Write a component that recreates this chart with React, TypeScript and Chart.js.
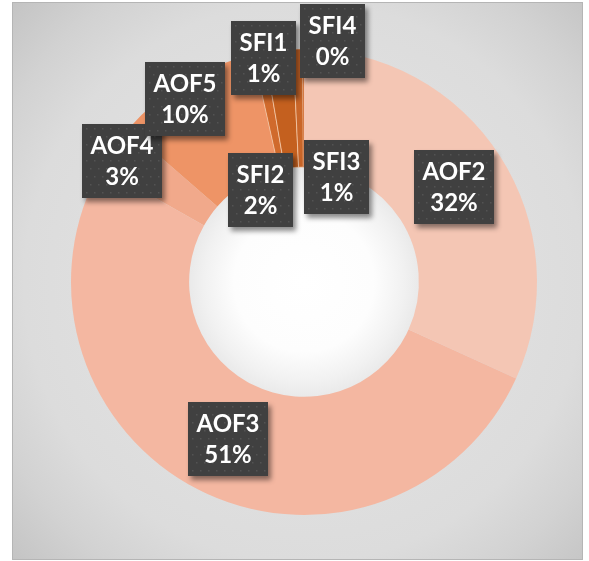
import React, { useEffect, useRef } from "react";
import { Chart, registerables } from "chart.js";

Chart.register(...registerables);

// Categories and their shares (percent of the whole)
const categories = ["AOF2", "AOF3", "AOF4", "AOF5", "SFI1", "SFI2", "SFI3", "SFI4"];
const shares = [31.8, 51.4, 3.2, 10.1, 0.8, 1.95, 0.65, 0.1];
const sliceColors = [
  "#F4C6B4",
  "#F4B7A1",
  "#F1A98B",
  "#EE9466",
  "#D06A2C",
  "#C4601F",
  "#C96629",
  "#D77B45",
];
const sliceBorders = [0, 0, 0, 0, 1, 1, 1, 0];
// Manual label nudges (px) relative to each slice centre, as in the original layout
const labelOffsets: [number, number][] = [
  [4, -1],
  [3, 2],
  [-40, -21],
  [-30, -34],
  [-7, -53],
  [-25, 81],
  [37, 69],
  [29, -67],
];

const LABEL_FONT = "bold 24px Lato, 'Open Sans', sans-serif";

const boxLabelPlugin = {
  id: "boxLabels",
  afterDatasetsDraw(chart: any) {
    const ctx: CanvasRenderingContext2D = chart.ctx;
    const meta = chart.getDatasetMeta(0);
    const data = chart.data.datasets[0].data as number[];
    const total = data.reduce((a, b) => a + b, 0);
    ctx.save();
    ctx.font = LABEL_FONT;
    meta.data.forEach((arc: any, i: number) => {
      const p = arc.getCenterPoint();
      const cx = p.x + labelOffsets[i][0];
      const cy = p.y + labelOffsets[i][1];
      const l1 = String(chart.data.labels[i]);
      const l2 = Math.round((data[i] / total) * 100) + "%";
      const w = Math.round(
        Math.max(ctx.measureText(l1).width, ctx.measureText(l2).width) + 17
      );
      const h = 74;
      const x = Math.round(cx - w / 2);
      const y = Math.round(cy - h / 2);
      ctx.save();
      ctx.shadowColor = "rgba(0,0,0,0.45)";
      ctx.shadowBlur = 5;
      ctx.shadowOffsetX = 3;
      ctx.shadowOffsetY = 4;
      ctx.fillStyle = "#404040";
      ctx.fillRect(x, y, w, h);
      ctx.restore();
      ctx.fillStyle = "#535353";
      let r = 0;
      for (let yy = y + 4; yy < y + h - 2; yy += 8, r++) {
        for (let xx = x + 4 + (r % 2) * 4; xx < x + w - 2; xx += 8) {
          ctx.fillRect(xx, yy, 1.5, 1.5);
        }
      }
      ctx.fillStyle = "#ffffff";
      ctx.textAlign = "center";
      ctx.textBaseline = "alphabetic";
      ctx.fillText(l1, x + w / 2, y + 30);
      ctx.fillText(l2, x + w / 2, y + 61);
    });
    ctx.restore();
  },
};

export default function App() {
  const canvasRef = useRef<HTMLCanvasElement | null>(null);

  useEffect(() => {
    if (!canvasRef.current) return;
    const chart = new Chart(canvasRef.current, {
      type: "doughnut",
      data: {
        labels: categories,
        datasets: [
          {
            data: shares,
            backgroundColor: sliceColors,
            borderColor: "rgba(255,225,200,0.55)",
            borderWidth: sliceBorders,
          },
        ],
      },
      options: {
        responsive: false,
        animation: false,
        cutout: "49.3%",
        layout: { padding: { left: 57.5, right: 44.5, top: 45.5, bottom: 43.5 } },
        plugins: {
          legend: { display: false },
          tooltip: { enabled: false },
        },
      },
      plugins: [boxLabelPlugin],
    });
    let alive = true;
    if ((document as any).fonts && (document as any).fonts.load) {
      (document as any).fonts.load(LABEL_FONT).then(() => {
        if (alive) chart.update();
      });
    }
    return () => {
      alive = false;
      chart.destroy();
    };
  }, []);

  return (
    <div
      style={{
        position: "absolute",
        left: 12,
        top: 2,
        width: 571,
        height: 558,
        boxSizing: "border-box",
        border: "1px solid #b5b5b5",
        background:
          "radial-gradient(circle 403px at 291px 279px, #ffffff 0px, #fdfdfd 70px, #f1f1f1 100px, #e6e6e6 122px, #dfdfdf 200px, #dcdcdc 280px, #d2d2d2 340px, #c4c4c4 403px)",
      }}
    >
      <canvas
        ref={canvasRef}
        width={569}
        height={556}
        style={{ display: "block", width: 569, height: 556 }}
      />
    </div>
  );
}
